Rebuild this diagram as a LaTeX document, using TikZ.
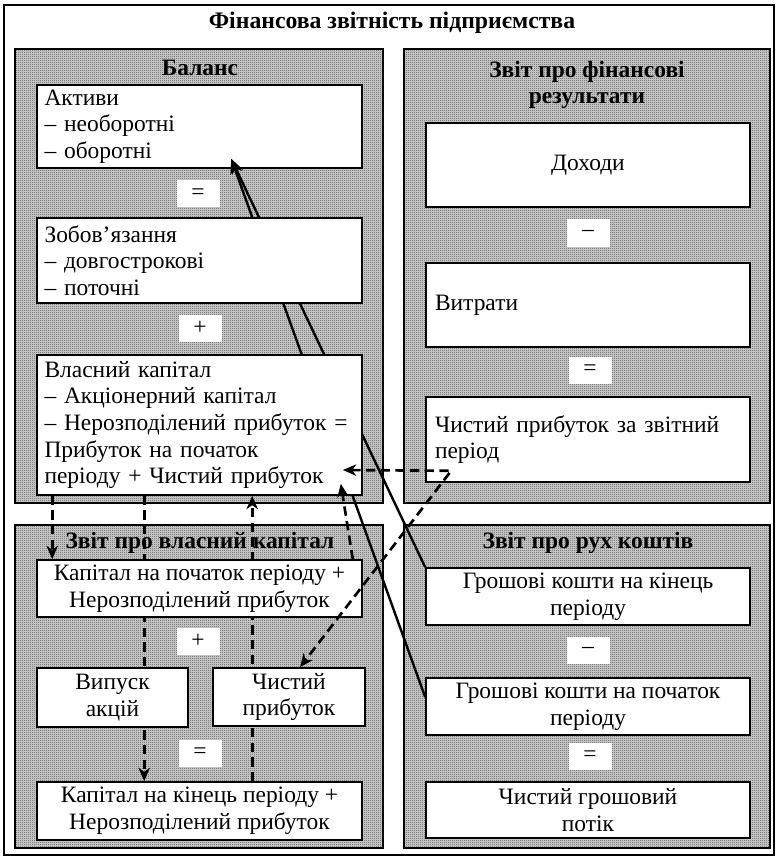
\documentclass[tikz,border=0pt]{standalone}
\usepackage{fontspec}
\setmainfont{Liberation Serif}
\usetikzlibrary{arrows.meta,calc,patterns.meta}

% one drawing unit = one pixel of a 96 dpi page
\newdimen\pxu \pxu=0.75pt

\pgfdeclarelayer{panels}
\pgfdeclarelayer{low}
\pgfdeclarelayer{links}
\pgfdeclarelayer{top}
\pgfsetlayers{panels,low,links,main,top}

% fine dotted screen used on the statement panels
\tikzdeclarepattern{
  name=finedots,
  type=uncolored,
  bounding box={(0pt,0pt) and (1.5pt,1.5pt)},
  tile size={(1.5pt,1.5pt)},
  code={\fill (0pt,0pt) rectangle (0.75pt,0.75pt);}
}

\tikzset{
  every node/.style={font=\fontsize{17.6}{20}\selectfont},
  frame/.style={draw=black, line width=1.5pt},
  panel/.style={draw=black, line width=1.5pt,
    preaction={fill=black!24}, pattern=finedots, pattern color=black!85},
  ptitle/.style={font=\fontsize{17.6}{19}\selectfont\bfseries, align=center, inner sep=0pt},
  tbox/.style={draw=black, fill=white, line width=1.2pt, rectangle, inner sep=0pt},
  lbox/.style={tbox, align=left},
  cbox/.style={tbox, align=center},
  opbox/.style={fill=white, inner sep=0pt, minimum width=43\pxu, minimum height=27\pxu},
  solidlink/.style={line width=1.8pt, -{Stealth[length=11pt,width=9pt,inset=3pt]}},
  dashlink/.style={line width=2pt, dash pattern=on 7pt off 4pt,
    -{Stealth[length=10pt,width=8.5pt,inset=3pt]}}
}

\begin{document}
\begin{tikzpicture}[x=0.75pt, y=-0.75pt]
\useasboundingbox (0,0) rectangle (777,859);

\begin{pgfonlayer}{panels}
  \draw[frame] (4,5) rectangle (774,855);
  \node[inner sep=0pt, font=\fontsize{17.8}{20}\selectfont\bfseries] (title) at (392,23)
    {Фінансова звітність підприємства};

  \draw[panel] (15,49) rectangle (383,503);
  \draw[panel] (404,49) rectangle (770,503);
  \draw[panel] (15,525) rectangle (383,848);
  \draw[panel] (404,525) rectangle (770,848);

  \node[ptitle] (tbal) at (200,68) {Баланс};
  \node[ptitle] (tfin) at (587,85) {Звіт про фінансові\\результати};
  \node[ptitle] (tcap) at (200,543) {Звіт про власний капітал};
  \node[ptitle] (tcash) at (588,543) {Звіт про рух коштів};
\end{pgfonlayer}

\begin{pgfonlayer}{low}
  \node[lbox, minimum width=325\pxu, minimum height=83\pxu, text width=310\pxu]
    (akt) at (199.5,126.5) {Активи\\– необоротні\\– оборотні};
\end{pgfonlayer}

% balance sheet
\node[lbox, minimum width=325\pxu, minimum height=85\pxu, text width=310\pxu]
  (zob) at (199.5,260.5) {Зобов’язання\\– довгострокові\\– поточні};
\node[lbox, minimum width=325\pxu, minimum height=140\pxu, text width=310\pxu]
  (vk) at (199.5,425) {Власний капітал\\– Акціонерний капітал\\– Нерозподілений прибуток =\\Прибуток на початок\\періоду + Чистий прибуток};
\node[opbox] (op1) at (198,194) {=};
\node[opbox] (op2) at (200,328) {+};

% income statement
\node[cbox, minimum width=324\pxu, minimum height=84\pxu] (dox) at (588,165) {Доходи};
\node[lbox, minimum width=324\pxu, minimum height=84\pxu, text width=306\pxu]
  (vyt) at (588,305) {Витрати};
\node[lbox, minimum width=324\pxu, minimum height=85\pxu, text width=306\pxu]
  (chz) at (588,439.5) {Чистий прибуток за звітний\\період};
\node[opbox] (op3) at (588,233) {–};
\node[opbox] (op4) at (590,370) {=};

% statement of equity
\node[cbox, minimum width=325\pxu, minimum height=57\pxu] (kp) at (199.5,588.5)
  {Капітал на початок періоду +\\Нерозподілений прибуток};
\node[cbox, minimum width=151\pxu, minimum height=59\pxu] (va) at (112.5,697.5)
  {Випуск\\акцій};
\node[cbox, minimum width=152\pxu, minimum height=58\pxu] (chp) at (289,697)
  {Чистий\\прибуток};
\node[cbox, minimum width=325\pxu, minimum height=58\pxu] (kk) at (199.5,811)
  {Капітал на кінець періоду +\\Нерозподілений прибуток};
\node[opbox] (op5) at (198,641) {+};
\node[opbox] (op6) at (200,753) {=};

% cash flow statement
\node[cbox, minimum width=324\pxu, minimum height=57\pxu] (gkk) at (588,596.5)
  {Грошові кошти на кінець\\періоду};
\node[cbox, minimum width=324\pxu, minimum height=57\pxu] (gkp) at (588,706.5)
  {Грошові кошти на початок\\періоду};
\node[cbox, minimum width=324\pxu, minimum height=56\pxu] (chg) at (588,810)
  {Чистий грошовий\\потік};
\node[opbox] (op7) at (588,650) {–};
\node[opbox] (op8) at (590,756) {=};

% link end points
\coordinate (tipA) at ($(akt.south west)+(195,-10)$);
\coordinate (tipV) at ($(vk.east)+(-20,45)$);
\coordinate (tipW) at ($(vk.south east)+(-22,-12)$);
\coordinate (knee) at ($(chz.south west)+(26,-12)$);

\begin{pgfonlayer}{links}
  \draw[solidlink] (gkk.north west) -- (tipA);
  \draw[solidlink] ($(gkp.north west)+(0,20)$) -- (tipA);
  \draw[dashlink] ($(vk.south west)+(16,0)$) -- ($(kp.north west)+(16,0)$);
  \draw[dashlink] ($(vk.south west)+(108,0)$) -- ($(kk.north west)+(108,0)$);
  \draw[dashlink] ($(kk.north west)+(216,0)$) -- ($(vk.south west)+(216,0)$);
\end{pgfonlayer}

\begin{pgfonlayer}{top}
  \draw[dashlink, {Stealth[length=10pt,width=8.5pt,inset=3pt]}-{Stealth[length=10pt,width=8.5pt,inset=3pt]}]
    (tipV) -- (knee) -- ($(chp.north)+(11,0)$);
  \draw[dashlink] ($(kp.north east)+(-10,0)$) -- (tipW);
\end{pgfonlayer}
\end{tikzpicture}
\end{document}
